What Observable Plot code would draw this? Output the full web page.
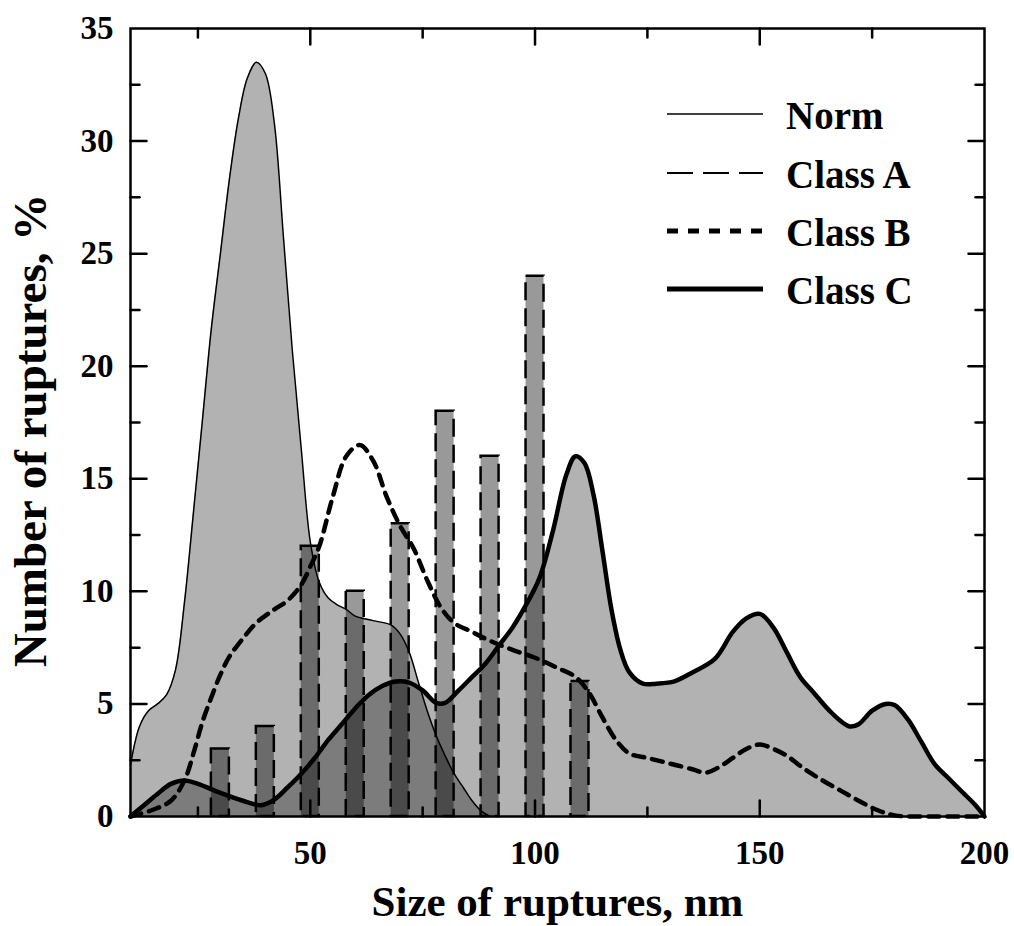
<!DOCTYPE html>
<html>
<head>
<meta charset="utf-8">
<script src="https://cdn.jsdelivr.net/npm/d3@7"></script>
<script src="https://cdn.jsdelivr.net/npm/@observablehq/plot@0.6"></script>
<style>
  html, body { margin: 0; padding: 0; background: #fff; }
  #chart { width: 1014px; height: 926px; }
</style>
</head>
<body>
<div id="chart"></div>
<script>
// ---- data ----
const normX = [10, 12, 14, 16, 18, 20, 22, 24, 26, 28, 30, 32, 34, 36, 38, 40, 42, 44, 46, 48, 50, 52, 54, 56, 58, 60, 64, 68, 70, 72, 74, 76, 78, 80, 82, 84, 86, 88, 90];
const normY = [2.3, 4.0, 4.7, 5.0, 5.4, 6.5, 9.5, 13.5, 17.6, 21.7, 25, 28.3, 31, 32.8, 33.5, 33, 30.8, 25.8, 20.7, 16.3, 12.2, 10.4, 9.7, 9.4, 9.2, 8.9, 8.7, 8.5, 8.1, 7.3, 6.0, 4.7, 3.6, 2.7, 1.9, 1.3, 0.7, 0.25, 0];

const classAX = [30, 40, 50, 60, 70, 80, 90, 100, 110];
const classAY = [3, 4, 12, 10, 13, 18, 16, 24, 6];

const classBX = [10, 15, 19, 22, 24, 26, 28, 30, 32, 35, 38, 42, 45, 48, 50, 52, 55, 58, 61, 64, 67, 70, 73, 76, 79, 82, 86, 90, 95, 100, 105, 109, 112, 115, 118, 121, 125, 130, 135, 138, 141, 144, 147, 150, 153, 156, 160, 164, 168, 172, 176, 180, 190, 200];
const classBY = [0, 0.3, 0.7, 1.6, 2.8, 4.2, 5.3, 6.3, 7.1, 7.9, 8.6, 9.2, 9.6, 10.3, 11.1, 12, 14.2, 16, 16.5, 15.8, 14.2, 12.9, 11.9, 10.5, 9.3, 8.6, 8.2, 7.8, 7.4, 7.05, 6.6, 6.2, 5.5, 4.4, 3.4, 2.8, 2.6, 2.35, 2.1, 1.95, 2.2, 2.6, 3.0, 3.2, 3.0, 2.7, 2.1, 1.6, 1.15, 0.7, 0.3, 0.05, 0, 0];

const classCX = [10, 13, 16, 19, 22, 25, 30, 35, 39, 42, 45, 48, 51, 54, 57, 60, 63, 66, 69, 72, 75, 78, 80, 83, 86, 89, 92, 95, 98, 101, 104, 107, 109, 111, 113, 115, 117, 119, 121, 124, 127, 131, 135, 140, 144, 147, 150, 153, 156, 159, 162, 166, 170, 172, 175, 178, 180, 183, 186, 189, 192, 195, 198, 200];
const classCY = [0, 0.5, 1.0, 1.45, 1.6, 1.45, 1.05, 0.7, 0.5, 0.75, 1.3, 1.9, 2.6, 3.4, 4.1, 4.8, 5.4, 5.8, 6.0, 5.95, 5.6, 5.05, 5.05, 5.6, 6.2, 6.8, 7.6, 8.4, 9.4, 10.6, 12.7, 15.2, 16.0, 15.7, 14.3, 11.8, 9.2, 7.4, 6.4, 5.9, 5.9, 6.0, 6.4, 7.0, 8.2, 8.8, 9.0, 8.4, 7.3, 6.2, 5.5, 4.6, 4.0, 4.1, 4.7, 5.0, 4.95, 4.3, 3.3, 2.3, 1.7, 1.1, 0.5, 0];

const xTickLabels = [50, 100, 150, 200];
const yTickLabels = [0, 5, 10, 15, 20, 25, 30, 35];
const xMajorTicks = [50, 100, 150];
const xMinorTicks = [25, 75, 125, 175];
const yMajorTicks = [5, 10, 15, 20, 25, 30];
const yMinorTicks = [2.5, 7.5, 12.5, 17.5, 22.5, 27.5, 32.5];
const barHalfWidth = 2;

const seriesNames = ["Norm", "Class A", "Class B", "Class C"];
const xTitle = "Size of ruptures, nm";
const yTitle = "Number of ruptures, %";

// ---- tables ----
const norm = normX.map((x, i) => ({x, y: normY[i]}));
const classA = classAX.map((x, i) => ({x, y: classAY[i]}));
const classB = classBX.map((x, i) => ({x, y: classBY[i]}));
const classC = classCX.map((x, i) => ({x, y: classCY[i]}));

const tickShape = {
  draw(context, l) { context.moveTo(0, 0); context.lineTo(0, -l); }
};
const tickStyle = {stroke: "black", strokeWidth: 2.5, shape: tickShape, anchor: "start"};
const FONT = "'Liberation Serif', 'Times New Roman', serif";

const chart = Plot.plot({
  width: 1014,
  height: 926,
  marginLeft: 130,
  marginRight: 30,
  marginTop: 28,
  marginBottom: 110,
  style: {fontFamily: FONT, fontWeight: "bold", fontSize: "33px", background: "white", color: "black"},
  x: {domain: [10, 200]},
  y: {domain: [0, 35]},
  marks: [
    // Norm area
    Plot.areaY(norm, {x: "x", y: "y", curve: "catmull-rom", fill: "black", fillOpacity: 0.3}),
    // Class C area
    Plot.areaY(classC, {x: "x", y: "y", curve: "catmull-rom", fill: "black", fillOpacity: 0.3}),
    // Class A bars
    Plot.rect(classA, {x1: d => d.x - barHalfWidth, x2: d => d.x + barHalfWidth, y1: 0, y2: "y",
      fill: "black", fillOpacity: 0.4, stroke: "black", strokeWidth: 2.5, strokeDasharray: "18,8"}),
    // Norm line
    Plot.line(norm, {x: "x", y: "y", curve: "catmull-rom", stroke: "black", strokeWidth: 1.5}),
    // Class C line
    Plot.line(classC, {x: "x", y: "y", curve: "catmull-rom", stroke: "black", strokeWidth: 4.5}),
    // Class B line
    Plot.line(classB, {x: "x", y: "y", curve: "catmull-rom", stroke: "black", strokeWidth: 4.5, strokeDasharray: "11,8"}),
    // frame
    Plot.frame({stroke: "black", strokeWidth: 2.5}),
    // inward ticks on all four sides
    Plot.vectorX(xMajorTicks, {x: d => d, frameAnchor: "bottom", length: 16, rotate: 0, ...tickStyle}),
    Plot.vectorX(xMinorTicks, {x: d => d, frameAnchor: "bottom", length: 9, rotate: 0, ...tickStyle}),
    Plot.vectorX(xMajorTicks, {x: d => d, frameAnchor: "top", length: 16, rotate: 180, ...tickStyle}),
    Plot.vectorX(xMinorTicks, {x: d => d, frameAnchor: "top", length: 9, rotate: 180, ...tickStyle}),
    Plot.vectorY(yMajorTicks, {y: d => d, frameAnchor: "left", length: 16, rotate: 90, ...tickStyle}),
    Plot.vectorY(yMinorTicks, {y: d => d, frameAnchor: "left", length: 9, rotate: 90, ...tickStyle}),
    Plot.vectorY(yMajorTicks, {y: d => d, frameAnchor: "right", length: 16, rotate: -90, ...tickStyle}),
    Plot.vectorY(yMinorTicks, {y: d => d, frameAnchor: "right", length: 9, rotate: -90, ...tickStyle}),
    // tick labels
    Plot.axisX({ticks: xTickLabels, tickSize: 0, tickPadding: 24, label: null, fontSize: 33}),
    Plot.axisY({ticks: yTickLabels, tickSize: 0, tickPadding: 17, label: null, fontSize: 33}),
    // axis titles
    Plot.text([xTitle], {frameAnchor: "bottom", dy: 86, fontSize: 43, fontWeight: "bold", lineAnchor: "middle", textAnchor: "middle"}),
    Plot.text([yTitle], {frameAnchor: "left", dx: -100, dy: 8, rotate: -90, fontSize: 47, fontWeight: "bold", lineAnchor: "middle", textAnchor: "middle"})
  ]
});

// ---- legend (inside the svg, top right) ----
const svg = d3.select(chart);
const legendStyles = [
  {w: 1.5, dash: null},
  {w: 2.2, dash: "26,10"},
  {w: 5, dash: "11,10"},
  {w: 5, dash: null}
];
const legendYs = [114, 173, 231, 289];
const lg = svg.append("g")
  .attr("font-family", FONT).attr("font-weight", "bold").attr("font-size", 39)
  .attr("text-anchor", "start");
seriesNames.forEach((name, i) => {
  const s = legendStyles[i];
  lg.append("line")
    .attr("x1", 667).attr("x2", 763)
    .attr("y1", legendYs[i]).attr("y2", legendYs[i])
    .attr("stroke", "black").attr("stroke-width", s.w)
    .attr("stroke-dasharray", s.dash);
  lg.append("text")
    .attr("x", 786).attr("y", legendYs[i] + 15)
    .attr("fill", "black")
    .attr("text-anchor", "start")
    .text(name);
});

document.getElementById("chart").appendChild(chart);
</script>
</body>
</html>
